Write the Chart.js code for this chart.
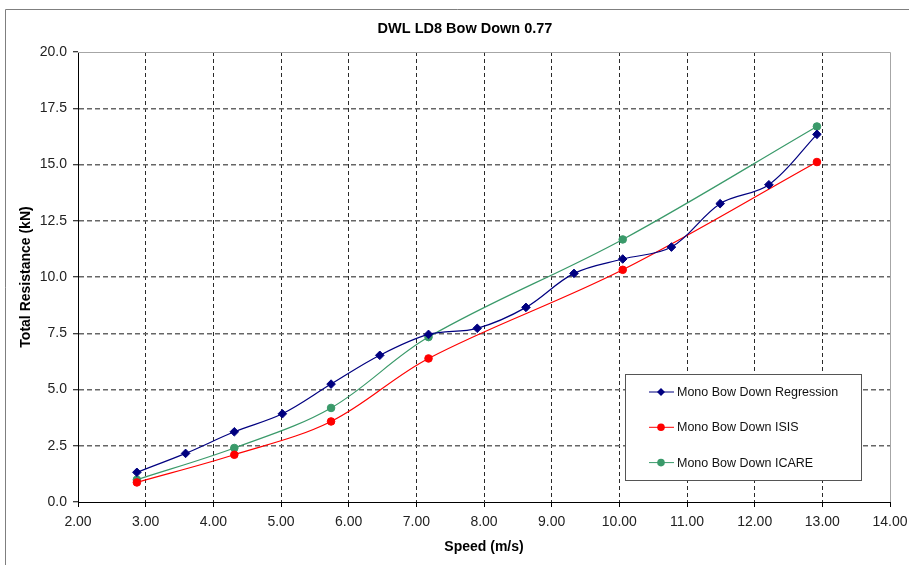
<!DOCTYPE html>
<html>
<head>
<meta charset="utf-8">
<title>DWL LD8 Bow Down 0.77</title>
<script src="https://cdn.jsdelivr.net/npm/chart.js@4.4.1/dist/chart.umd.min.js"></script>
<style>
  html, body { margin: 0; padding: 0; background: #fff; }
  canvas { display: block; }
</style>
</head>
<body>
<canvas id="resistanceChart" width="909" height="565"></canvas>
<script>
const chartTitle = 'DWL LD8 Bow Down 0.77';
const seriesNames = ['Mono Bow Down Regression', 'Mono Bow Down ISIS', 'Mono Bow Down ICARE'];

// regression curve, speed (m/s) vs total resistance (kN)
const regressionSpeed = [2.87, 3.59, 4.31, 5.02, 5.74, 6.46, 7.18, 7.90, 8.62, 9.33, 10.05, 10.77, 11.49, 12.21, 12.92];
const regressionResistance = [1.32, 2.16, 3.12, 3.92, 5.24, 6.52, 7.45, 7.72, 8.65, 10.16, 10.80, 11.33, 13.26, 14.10, 16.34];

// CFD runs share the same speeds
const cfdSpeed = [2.87, 4.31, 5.74, 7.18, 10.05, 12.92];
const isisResistance = [0.87, 2.10, 3.58, 6.38, 10.32, 15.11];
const icareResistance = [0.99, 2.40, 4.18, 7.33, 11.67, 16.69];

const fontFamily = '"Liberation Sans", Arial, Helvetica, sans-serif';

function toPoints(xs, ys) {
    return xs.map((x, i) => ({ x: x, y: ys[i] }));
}

function drawMarker(ctx, style, color, x, y, r) {
    ctx.fillStyle = color;
    ctx.beginPath();
    if (style === 'rectRot') {
        ctx.moveTo(x, y - r);
        ctx.lineTo(x + r, y);
        ctx.lineTo(x, y + r);
        ctx.lineTo(x - r, y);
        ctx.closePath();
    } else {
        ctx.arc(x, y, r, 0, Math.PI * 2);
    }
    ctx.fill();
}

// grey frame round the plot and the page border
const chartFrame = {
    id: 'chartFrame',
    beforeDatasetsDraw(chart) {
        const { ctx, chartArea: a } = chart;
        ctx.save();
        ctx.lineWidth = 1;
        ctx.strokeStyle = '#a6a6a6';
        ctx.beginPath();
        ctx.moveTo(a.left, Math.round(a.top) + 0.5);
        ctx.lineTo(Math.round(a.right) + 0.5, Math.round(a.top) + 0.5);
        ctx.lineTo(Math.round(a.right) + 0.5, a.bottom);
        ctx.stroke();
        ctx.strokeStyle = '#7f7f7f';
        ctx.beginPath();
        ctx.moveTo(5.5, chart.height);
        ctx.lineTo(5.5, 9.5);
        ctx.lineTo(chart.width, 9.5);
        ctx.stroke();
        ctx.restore();
    }
};

// boxed legend inside the lower right of the plot
const boxLegend = {
    id: 'boxLegend',
    afterDatasetsDraw(chart) {
        const ctx = chart.ctx;
        const left = 625, top = 374, w = 236, h = 106;
        ctx.save();
        ctx.fillStyle = '#fff';
        ctx.fillRect(left, top, w, h);
        ctx.strokeStyle = '#555';
        ctx.lineWidth = 1;
        ctx.strokeRect(left + 0.5, top + 0.5, w, h);
        ctx.font = '12.5px ' + fontFamily;
        ctx.textBaseline = 'middle';
        ctx.textAlign = 'left';
        chart.data.datasets.forEach((ds, i) => {
            const y = top + 18 + i * 35.3;
            ctx.strokeStyle = ds.borderColor;
            ctx.lineWidth = 1;
            ctx.beginPath();
            ctx.moveTo(left + 24, y);
            ctx.lineTo(left + 49, y);
            ctx.stroke();
            drawMarker(ctx, ds.pointStyle, ds.borderColor, left + 36, y, ds.pointStyle === 'rectRot' ? 4 : 3.8);
            ctx.fillStyle = '#111';
            ctx.fillText(ds.label, left + 52, y + 0.5);
        });
        ctx.restore();
    }
};

const chartHeading = {
    id: 'chartHeading',
    afterDraw(chart) {
        const ctx = chart.ctx;
        ctx.save();
        ctx.font = 'bold 14.5px ' + fontFamily;
        ctx.fillStyle = '#000';
        ctx.textAlign = 'center';
        ctx.textBaseline = 'middle';
        ctx.fillText(chartTitle, 465, 29);
        ctx.restore();
    }
};

const hideEdge = (edges, color) => c => (c.tick && edges.includes(c.tick.value)) ? 'rgba(0,0,0,0)' : color;

const ctx = document.getElementById('resistanceChart').getContext('2d');
const chart = new Chart(ctx, {
    type: 'scatter',
    data: {
        datasets: [{
            label: seriesNames[0],
            data: toPoints(regressionSpeed, regressionResistance),
            borderColor: '#000080',
            backgroundColor: '#000080',
            pointStyle: 'rectRot',
            pointRadius: 4.3,
            pointBorderWidth: 1,
            borderWidth: 1.2,
            showLine: true,
            tension: 0.35
        }, {
            label: seriesNames[1],
            data: toPoints(cfdSpeed, isisResistance),
            borderColor: '#ff0000',
            backgroundColor: '#ff0000',
            pointStyle: 'circle',
            pointRadius: 3.8,
            pointBorderWidth: 1,
            borderWidth: 1.2,
            showLine: true,
            tension: 0.35
        }, {
            label: seriesNames[2],
            data: toPoints(cfdSpeed, icareResistance),
            borderColor: '#3a9a6a',
            backgroundColor: '#3a9a6a',
            pointStyle: 'circle',
            pointRadius: 3.8,
            pointBorderWidth: 1,
            borderWidth: 1.2,
            showLine: true,
            tension: 0.35
        }]
    },
    options: {
        responsive: false,
        animation: false,
        layout: { padding: { top: 52, right: 19, left: 0, bottom: 0 } },
        plugins: {
            legend: { display: false },
            title: { display: false },
            tooltip: { enabled: false }
        },
        scales: {
            x: {
                type: 'linear',
                min: 2,
                max: 14,
                afterFit: s => {
                    s.height = 63;
                    s.paddingLeft = 0;
                    s.paddingRight = 0;
                },
                ticks: {
                    stepSize: 1,
                    padding: 7,
                    color: '#222',
                    font: { family: fontFamily, size: 14 },
                    callback: v => Number(v).toFixed(2)
                },
                grid: {
                    color: hideEdge([2, 14], '#2a2a2a'),
                    lineWidth: 1,
                    tickLength: 5,
                    tickColor: '#000',
                    tickWidth: 1
                },
                border: { display: true, color: '#000', width: 1, dash: [4, 3] },
                title: {
                    display: true,
                    text: 'Speed (m/s)',
                    color: '#000',
                    font: { family: fontFamily, size: 14, weight: 'bold' },
                    padding: { top: 0, bottom: 9.6 }
                }
            },
            y: {
                min: 0,
                max: 20,
                afterFit: s => {
                    s.width = 78;
                    s.paddingTop = 0;
                    s.paddingBottom = 0;
                },
                ticks: {
                    stepSize: 2.5,
                    padding: 6,
                    color: '#222',
                    font: { family: fontFamily, size: 14 },
                    callback: v => Number(v).toFixed(1)
                },
                grid: {
                    color: hideEdge([0, 20], '#666'),
                    lineWidth: 1.5,
                    tickLength: 5,
                    tickColor: '#000',
                    tickWidth: 1
                },
                border: { display: true, color: '#000', width: 1, dash: [5, 3] },
                title: {
                    display: true,
                    text: 'Total Resistance (kN)',
                    color: '#000',
                    font: { family: fontFamily, size: 14, weight: 'bold' },
                    padding: { top: 17.6, bottom: 0 }
                }
            }
        }
    },
    plugins: [chartFrame, boxLegend, chartHeading]
});
</script>
</body>
</html>
